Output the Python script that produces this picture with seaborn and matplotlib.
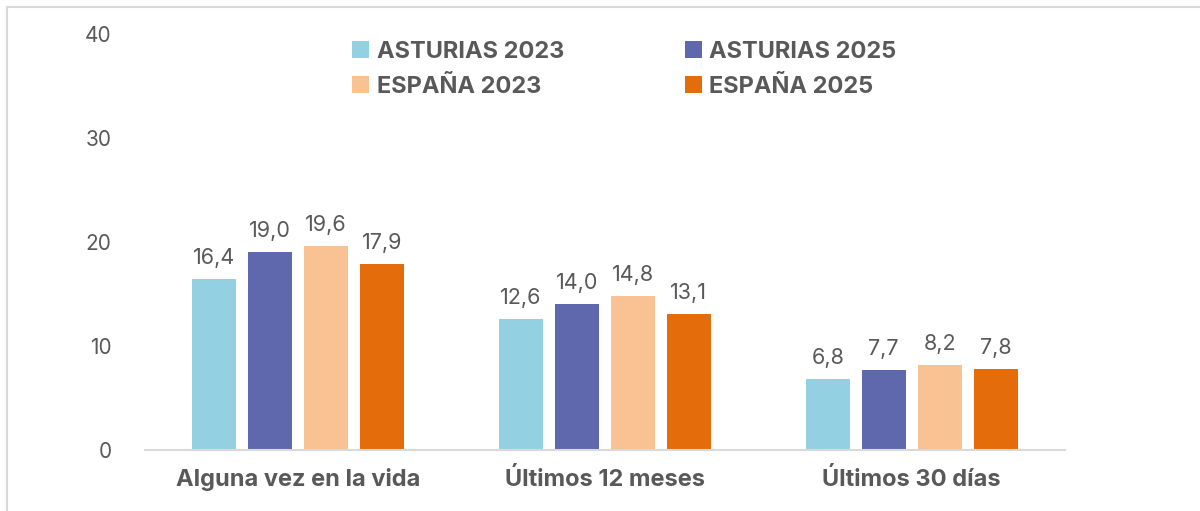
import numpy as np
import pandas as pd
import matplotlib
matplotlib.use("Agg")
import matplotlib.pyplot as plt
from matplotlib.lines import Line2D
import seaborn as sns

CATEGORIES = ["Alguna vez en la vida", "Últimos 12 meses", "Últimos 30 días"]
SERIES = ["ASTURIAS 2023", "ASTURIAS 2025", "ESPAÑA 2023", "ESPAÑA 2025"]
ASTURIAS_2023 = [16.4, 12.6, 6.8]
ASTURIAS_2025 = [19.0, 14.0, 7.7]
ESPANA_2023 = [19.6, 14.8, 8.2]
ESPANA_2025 = [17.9, 13.1, 7.8]
Y_TICKS = [0, 10, 20, 30, 40]

COLORS = ["#93D0E2", "#5F68AC", "#F8C292", "#E46C0A"]
TEXT = "#595959"
LINE = "#D9D9D9"

values = [ASTURIAS_2023, ASTURIAS_2025, ESPANA_2023, ESPANA_2025]
df = pd.DataFrame(
    [(c, s, v) for s, vals in zip(SERIES, values) for c, v in zip(CATEGORIES, vals)],
    columns=["cat", "serie", "valor"],
)

sns.set_theme(style="white")
plt.rcParams["font.family"] = ["Inter", "DejaVu Sans"]

fig = plt.figure(figsize=(12, 5.11), dpi=100)
fig.patch.set_facecolor("white")
ax = fig.add_axes([0.1208, 0.1194, 0.7667, 0.8141])

sns.barplot(data=df, x="cat", y="valor", hue="serie", order=CATEGORIES,
            hue_order=SERIES, palette=COLORS, width=0.73, gap=0.214,
            saturation=1, ax=ax, edgecolor="none")

for cont, vals in zip(ax.containers, values):
    ax.bar_label(cont, labels=[f"{v:.1f}".replace(".", ",") for v in vals],
                 padding=8, color=TEXT, fontsize=15.5)

ax.set_ylim(0, 40)
ax.set_xlim(-0.5, 2.5)
ax.set_yticks(Y_TICKS)
ax.set_xlabel("")
ax.set_ylabel("")
for s in ["top", "right", "left"]:
    ax.spines[s].set_visible(False)
ax.spines["bottom"].set_color(LINE)
ax.spines["bottom"].set_linewidth(1.5)
ax.tick_params(axis="y", length=0, pad=24, labelsize=15, labelcolor=TEXT)
ax.tick_params(axis="x", length=0, pad=13, labelcolor=TEXT)
for t in ax.get_xticklabels():
    t.set_fontsize(17)
    t.set_fontweight("bold")

handles, labels = ax.get_legend_handles_labels()
order = [0, 2, 1, 3]
ax.legend([handles[i] for i in order], [labels[i] for i in order],
          ncol=2, loc="upper left", bbox_to_anchor=(0.276, 0.962),
          bbox_transform=fig.transFigure, frameon=False,
          handlelength=0.72, handleheight=0.72, handletextpad=0.3,
          columnspacing=5.12, labelspacing=0.55,
          prop={"weight": "bold", "size": 17}, labelcolor=TEXT)

fig.add_artist(Line2D([7 / 1200, 7 / 1200], [0, 1 - 7 / 511],
                      transform=fig.transFigure, color=LINE, lw=1.5))
fig.add_artist(Line2D([7 / 1200, 1], [1 - 7 / 511, 1 - 7 / 511],
                      transform=fig.transFigure, color=LINE, lw=1.5))

fig.savefig("out.png", dpi=100, facecolor="white")
